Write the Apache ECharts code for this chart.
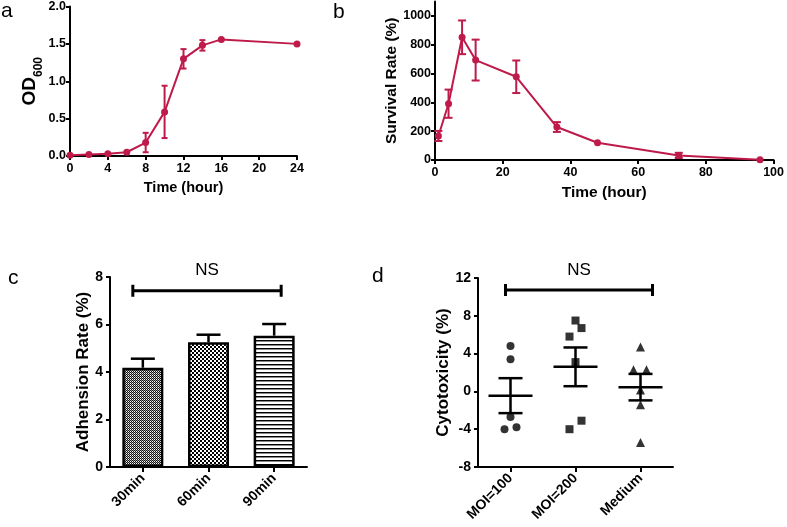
<!DOCTYPE html>
<html><head><meta charset="utf-8">
<script src="https://cdn.jsdelivr.net/npm/echarts@6/dist/echarts.min.js"></script>
<style>html,body{margin:0;padding:0;background:#fff}#c{width:787px;height:527px}</style>
</head><body><div id="c"></div>
<script>
// ---------- data ----------
const aTime = [0, 2, 4, 6, 8, 10, 12, 14, 16, 24];
const aOD = [0.01, 0.02, 0.03, 0.05, 0.18, 0.59, 1.30, 1.48, 1.56, 1.50];
const aSD = [0, 0, 0, 0, 0.13, 0.35, 0.13, 0.07, 0, 0];

const bTime = [1, 4, 8, 12, 24, 36, 48, 72, 96];
const bRate = [167, 391, 852, 694, 578, 229, 120, 32, 2];
const bSD = [35, 98, 117, 142, 113, 34, 0, 18, 0];
const bTicks = [0, 200, 400, 600, 800, 1000];

const cCats = ['30min', '60min', '90min'];
const cRate = [4.18, 5.25, 5.53];
const cSEM = [0.38, 0.32, 0.49];

const dCats = ['MOI=100', 'MOI=200', 'Medium'];
const dMOI100 = [4.8, 3.4, -2.7, -4.0, -3.8];
const dMOI200 = [7.5, 6.7, 5.8, 3.1, -3.1, -4.0];
const dMedium = [4.7, 2.3, 2.3, 0.15, -1.4, -5.4];
const dMean = [-0.45, 2.6, 0.45];
const dSEMLow = [-2.3, 0.55, -0.95];
const dSEMHigh = [1.4, 4.65, 1.85];

// ---------- styles ----------
const RED = '#BE1A4A';
const FONT = 'Liberation Sans, Arial, sans-serif';
const jit100 = [0, 0, 0, -6, 6];
const jit200 = [0, 6, -6, 0, 6, -6];
const jitMed = [0, -7, 6, 0, 0, 0];

function pattern(w, h, draw) {
  const cv = document.createElement('canvas');
  cv.width = w; cv.height = h;
  const ctx = cv.getContext('2d');
  ctx.fillStyle = '#fff'; ctx.fillRect(0, 0, w, h);
  draw(ctx);
  return { image: cv, repeat: 'repeat' };
}
const pat30 = pattern(2, 2, c => { c.fillStyle = '#111'; c.fillRect(0,0,1,1); c.fillRect(1,1,1,1); c.fillStyle='#999'; c.fillRect(1,0,1,1); });
const pat60 = pattern(4, 4, c => { c.fillStyle = '#000'; c.fillRect(0,0,2,2); c.fillRect(2,2,2,2); });
const pat90 = pattern(4, 4, c => { c.fillStyle = '#000'; c.fillRect(0,0,4,1); c.fillStyle = '#888'; c.fillRect(0,1,4,1); });
const cPatterns = [pat30, pat60, pat90];

const lbl = (size) => ({ color: '#000', fontWeight: 'bold', fontFamily: FONT, fontSize: size });
function axisCommon(labelSize) {
  return {
    axisLine: { show: true, onZero: false, lineStyle: { color: '#000', width: 2 } },
    axisTick: { show: true, length: 4, lineStyle: { color: '#000', width: 2 } },
    splitLine: { show: false },
    axisLabel: Object.assign({ margin: 4 }, lbl(labelSize)),
  };
}
function mk(base, extra) {
  const o = axisCommon(base);
  for (const k in extra) {
    if (typeof extra[k] === 'object' && o[k] && !Array.isArray(extra[k])) o[k] = Object.assign({}, o[k], extra[k]);
    else o[k] = extra[k];
  }
  return o;
}

function errItem(color, hw) {
  return function (params, api) {
    const x = api.value(0), lo = api.value(1), hi = api.value(2);
    const pH = api.coord([x, hi]), pL = api.coord([x, lo]);
    const st = { stroke: color, lineWidth: 2 };
    return { type: 'group', children: [
      { type: 'line', shape: { x1: pH[0], y1: pH[1], x2: pL[0], y2: pL[1] }, style: st },
      { type: 'line', shape: { x1: pH[0]-hw, y1: pH[1], x2: pH[0]+hw, y2: pH[1] }, style: st },
      { type: 'line', shape: { x1: pL[0]-hw, y1: pL[1], x2: pL[0]+hw, y2: pL[1] }, style: st }
    ]};
  };
}
function nsItem(leftPad, rightPad) {
  return function (params, api) {
    const y = api.value(2);
    const p0 = api.coord([api.value(0), y]), p1 = api.coord([api.value(1), y]);
    const x0 = p0[0] - leftPad, x1 = p1[0] + rightPad;
    const st = { stroke: '#000', lineWidth: 3 };
    return { type: 'group', children: [
      { type: 'line', shape: { x1: x0, y1: p0[1], x2: x1, y2: p0[1] }, style: st },
      { type: 'line', shape: { x1: x0, y1: p0[1]-6, x2: x0, y2: p0[1]+6 }, style: st },
      { type: 'line', shape: { x1: x1, y1: p0[1]-6, x2: x1, y2: p0[1]+6 }, style: st },
      { type: 'text', style: { text: 'NS', x: (x0+x1)/2, y: p0[1]-20, align: 'center', verticalAlign: 'middle', fontSize: 17, fontFamily: FONT, fill: '#000' } }
    ]};
  };
}

const aErr = aTime.map((t, i) => [t, aOD[i]-aSD[i], aOD[i]+aSD[i]]).filter((d, i) => aSD[i] > 0);
const bErr = bTime.map((t, i) => [t, bRate[i]-bSD[i], bRate[i]+bSD[i]]).filter((d, i) => bSD[i] > 0);

const letter = { fontSize: 21, fontWeight: 'normal', color: '#000', fontFamily: FONT };
const chart = echarts.init(document.getElementById('c'), null, { renderer: 'canvas' });
chart.setOption({
  backgroundColor: '#fff',
  animation: false,
  textStyle: { fontFamily: FONT },
  title: [
    { text: 'a', left: 1, top: 1, padding: 0, textStyle: letter },
    { text: 'b', left: 333, top: 2, padding: 0, textStyle: letter },
    { text: 'c', left: 8, top: 268, padding: 0, textStyle: letter },
    { text: 'd', left: 372, top: 266, padding: 0, textStyle: letter }
  ],
  grid: [
    { left: 70, top: 6, width: 227, height: 150 },
    { left: 435, top: 1.6, width: 341, height: 158.4 },
    { left: 110, top: 277, width: 197, height: 190 },
    { left: 478, top: 278, width: 195, height: 189 }
  ],
  xAxis: [
    mk(12.5, { type: 'value', gridIndex: 0, min: 0, max: 24, interval: 4, axisLabel: { margin: 6 },
      name: 'Time (hour)', nameLocation: 'middle', nameGap: 24, nameTextStyle: lbl(14.5) }),
    mk(12.5, { type: 'value', gridIndex: 1, min: 0, max: 100, interval: 20, axisLabel: { margin: 6 },
      name: 'Time (hour)', nameLocation: 'middle', nameGap: 25, nameTextStyle: lbl(15.5) }),
    mk(14, { type: 'category', gridIndex: 2, data: cCats, axisTick: { alignWithLabel: true, length: 5 },
      axisLabel: { rotate: 45, margin: 9 } }),
    mk(14, { type: 'category', gridIndex: 3, data: dCats, axisTick: { alignWithLabel: true, length: 5 },
      axisLabel: { rotate: 45, margin: 9 } })
  ],
  yAxis: [
    mk(12.5, { type: 'value', gridIndex: 0, min: 0, max: 2, interval: 0.5,
      axisLabel: { formatter: v => v.toFixed(1), margin: 4 },
      name: '{a|OD}{b|600}', nameLocation: 'middle', nameGap: 18,
      nameTextStyle: { color: '#000', fontFamily: FONT, rich: {
        a: { fontSize: 19, fontWeight: 'bold', lineHeight: 24, verticalAlign: 'top', fontFamily: FONT, color: '#000' },
        b: { fontSize: 12, fontWeight: 'bold', lineHeight: 12, verticalAlign: 'bottom', fontFamily: FONT, color: '#000' } } } }),
    mk(12.5, { type: 'value', gridIndex: 1, min: 0, max: 1100,
      axisLabel: { customValues: bTicks, margin: 4, formatter: v => String(v) }, axisTick: { customValues: bTicks },
      name: 'Survival Rate (%)', nameLocation: 'middle', nameGap: 31, nameTextStyle: lbl(15.5) }),
    mk(14, { type: 'value', gridIndex: 2, min: 0, max: 8, interval: 2, axisLabel: { margin: 7 },
      name: 'Adhension Rate (%)', nameLocation: 'middle', nameGap: 17, nameTextStyle: lbl(17) }),
    mk(14, { type: 'value', gridIndex: 3, min: -8, max: 12, interval: 4, axisLabel: { margin: 7 },
      name: 'Cytotoxicity (%)', nameLocation: 'middle', nameGap: 26, nameTextStyle: lbl(17) })
  ],
  series: [
    { type: 'custom', xAxisIndex: 0, yAxisIndex: 0, renderItem: errItem(RED, 3), data: aErr, z: 3 },
    { type: 'line', xAxisIndex: 0, yAxisIndex: 0, data: aTime.map((t, i) => [t, aOD[i]]),
      symbol: 'circle', symbolSize: 7, lineStyle: { color: RED, width: 2 }, itemStyle: { color: RED }, z: 4 },
    { type: 'custom', xAxisIndex: 1, yAxisIndex: 1, renderItem: errItem(RED, 4), data: bErr, z: 3 },
    { type: 'line', xAxisIndex: 1, yAxisIndex: 1, data: bTime.map((t, i) => [t, bRate[i]]),
      symbol: 'circle', symbolSize: 7, lineStyle: { color: RED, width: 2 }, itemStyle: { color: RED }, z: 4 },
    { type: 'custom', xAxisIndex: 2, yAxisIndex: 2, z: 1,
      renderItem: function (params, api) {
        const i = api.value(0), v = api.value(1), e = api.value(2);
        const p0 = api.coord([i, v]), p1 = api.coord([i, v + e]);
        const st = { stroke: '#000', lineWidth: 2.5 };
        return { type: 'group', children: [
          { type: 'line', shape: { x1: p0[0], y1: p0[1], x2: p1[0], y2: p1[1] }, style: st },
          { type: 'line', shape: { x1: p1[0]-12, y1: p1[1], x2: p1[0]+12, y2: p1[1] }, style: st }
        ]};
      },
      data: cRate.map((v, i) => [i, v, cSEM[i]]) },
    { type: 'bar', xAxisIndex: 2, yAxisIndex: 2, barWidth: 41, z: 2,
      data: cRate.map((v, i) => ({ value: v, itemStyle: { color: cPatterns[i], borderColor: '#000', borderWidth: 2.5 } })) },
    { type: 'custom', xAxisIndex: 2, yAxisIndex: 2, renderItem: nsItem(10, 7), data: [[0, 2, 7.42]], z: 5 },
    { type: 'scatter', xAxisIndex: 3, yAxisIndex: 3, symbol: 'circle', symbolSize: 8, itemStyle: { color: '#000' },
      data: dMOI100.map((v, i) => ({ value: [0, v], symbolOffset: [jit100[i], 0] })) },
    { type: 'scatter', xAxisIndex: 3, yAxisIndex: 3, symbol: 'rect', symbolSize: 8, itemStyle: { color: '#000' },
      data: dMOI200.map((v, i) => ({ value: [1, v], symbolOffset: [jit200[i], 0] })) },
    { type: 'scatter', xAxisIndex: 3, yAxisIndex: 3, symbol: 'triangle', symbolSize: 9, itemStyle: { color: '#000' },
      data: dMedium.map((v, i) => ({ value: [2, v], symbolOffset: [jitMed[i], 0] })) },
    { type: 'custom', xAxisIndex: 3, yAxisIndex: 3, z: 4,
      renderItem: function (params, api) {
        const i = api.value(0);
        const pm = api.coord([i, api.value(1)]), pl = api.coord([i, api.value(2)]), ph = api.coord([i, api.value(3)]);
        const st = { stroke: '#000', lineWidth: 2.5 };
        return { type: 'group', children: [
          { type: 'line', shape: { x1: pm[0]-22, y1: pm[1], x2: pm[0]+22, y2: pm[1] }, style: st },
          { type: 'line', shape: { x1: ph[0], y1: ph[1], x2: pl[0], y2: pl[1] }, style: st },
          { type: 'line', shape: { x1: ph[0]-12, y1: ph[1], x2: ph[0]+12, y2: ph[1] }, style: st },
          { type: 'line', shape: { x1: pl[0]-12, y1: pl[1], x2: pl[0]+12, y2: pl[1] }, style: st }
        ]};
      },
      data: dMean.map((m, i) => [i, m, dSEMLow[i], dSEMHigh[i]]) },
    { type: 'custom', xAxisIndex: 3, yAxisIndex: 3, renderItem: nsItem(5, 12), data: [[0, 2, 10.73]], z: 5 }
  ]
});
</script>
</body></html>
